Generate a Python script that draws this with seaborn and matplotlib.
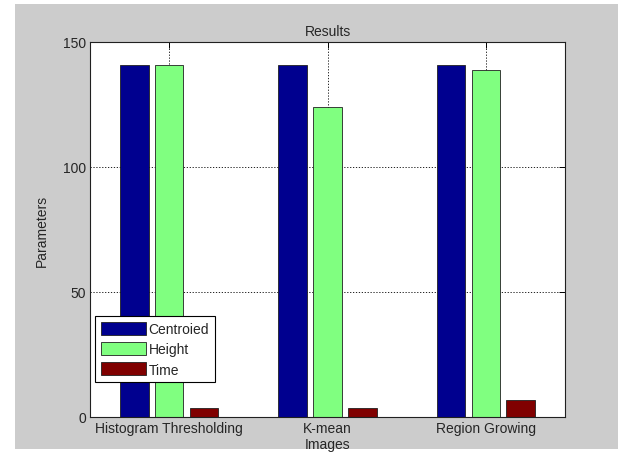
import matplotlib
matplotlib.use("Agg")
import matplotlib.pyplot as plt
from matplotlib.patches import Rectangle
import seaborn as sns
import pandas as pd

# Results per segmentation method
methods = ["Histogram Thresholding", "K-mean", "Region Growing"]
centroied = [141, 141, 141]
height = [141, 124, 139]
time = [3.5, 3.5, 7]
series_names = ["Centroied", "Height", "Time"]
series_colors = ["#00008F", "#80FF80", "#800000"]
y_ticks = [0, 50, 100, 150]

df = pd.DataFrame({
    "Images": methods * 3,
    "Series": [s for s in series_names for _ in methods],
    "Value": centroied + height + time,
})

sns.set_theme(style="white")
plt.rcParams["font.family"] = ["Liberation Sans", "DejaVu Sans"]
plt.rcParams["font.size"] = 10
FS = 10
TXT = "#262626"

W, H = 618, 460
fig = plt.figure(figsize=(W / 100, H / 100), dpi=100, facecolor="white")
# grey figure panel behind the axes
fig.patches.append(Rectangle((15 / W, 1 - 450 / H), (W - 15) / W, (450 - 5) / H,
                             transform=fig.transFigure, facecolor="#cccccc",
                             edgecolor="none", zorder=-10))

ax = fig.add_axes([90 / W, 1 - 418 / H, (565 - 90) / W, (418 - 43) / H])
ax.set_zorder(1)
ax.set_facecolor("white")

sns.barplot(data=df, x="Images", y="Value", hue="Series", hue_order=series_names,
            palette=series_colors, width=0.66, gap=0.18, edgecolor="#202020",
            linewidth=0.6, saturation=1, ax=ax, zorder=2)

ax.set_xlim(-0.5, 2.5)
ax.set_ylim(0, 150)
ax.set_yticks(y_ticks)
ax.set_axisbelow(True)
ax.grid(True, color="black", linestyle=(0, (1.5, 2.0)), linewidth=0.6, zorder=0)
ax.tick_params(axis="both", direction="in", length=4, width=0.7, colors="black",
               labelsize=FS, labelcolor=TXT, top=True, right=True, pad=3)
for sp in ax.spines.values():
    sp.set_color("#202020")
    sp.set_linewidth(0.8)

ax.set_title("Results", fontsize=FS, color=TXT, pad=5)
ax.set_xlabel("Images", fontsize=FS, color=TXT, labelpad=1)
ax.set_ylabel("Parameters", fontsize=FS, color=TXT, labelpad=10)

leg = ax.legend(loc="lower left", bbox_to_anchor=(0.0105, 0.093), frameon=True,
                fancybox=False, edgecolor="black", facecolor="white", framealpha=1,
                fontsize=FS, handlelength=3.25, handleheight=1.08, labelspacing=0.43,
                handletextpad=0.2, borderpad=0.4, borderaxespad=0)
leg.get_frame().set_linewidth(0.8)
for t in leg.get_texts():
    t.set_color(TXT)

fig.savefig("out.png", dpi=100, facecolor="white")
